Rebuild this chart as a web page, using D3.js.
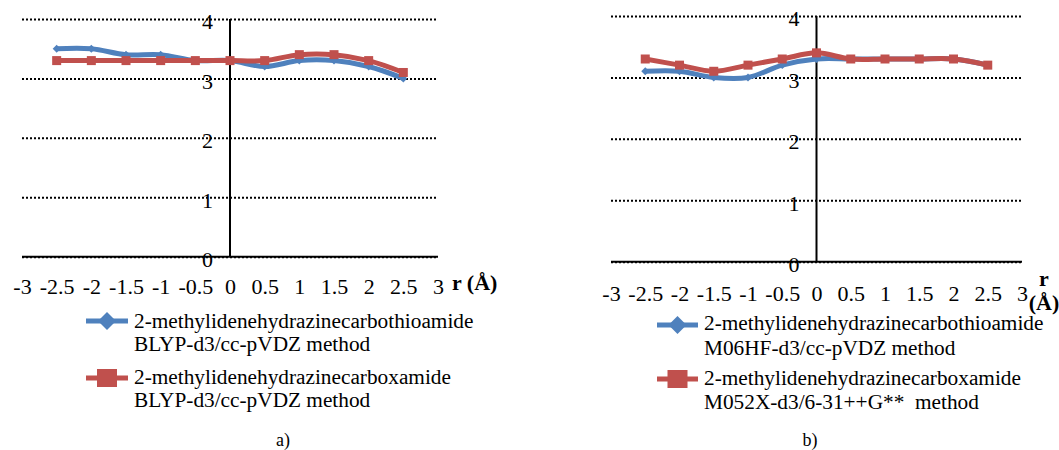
<!DOCTYPE html>
<html>
<head>
<meta charset="utf-8">
<script src="https://cdn.jsdelivr.net/npm/d3@7"></script>
<style>
  body { margin: 0; background: #fff; }
  svg text { fill: #000; }
</style>
</head>
<body>
<div id="chart"></div>
<script>
// data
const rValues = [-2.5, -2, -1.5, -1, -0.5, 0, 0.5, 1, 1.5, 2, 2.5];
const xTicks = [-3, -2.5, -2, -1.5, -1, -0.5, 0, 0.5, 1, 1.5, 2, 2.5, 3];
const yTicks = [0, 1, 2, 3, 4];

const thioA = [3.5, 3.5, 3.4, 3.4, 3.3, 3.3, 3.2, 3.3, 3.3, 3.2, 3.0];
const oxaA  = [3.3, 3.3, 3.3, 3.3, 3.3, 3.3, 3.3, 3.4, 3.4, 3.3, 3.1];
const thioB = [3.1, 3.1, 3.0, 3.0, 3.2, 3.3, 3.3, 3.3, 3.3, 3.3, 3.2];
const oxaB  = [3.3, 3.2, 3.1, 3.2, 3.3, 3.4, 3.3, 3.3, 3.3, 3.3, 3.2];

const legendA = [
  ["2-methylidenehydrazinecarbothioamide", "BLYP-d3/cc-pVDZ method"],
  ["2-methylidenehydrazinecarboxamide", "BLYP-d3/cc-pVDZ method"]
];
const legendB = [
  ["2-methylidenehydrazinecarbothioamide", "M06HF-d3/cc-pVDZ method"],
  ["2-methylidenehydrazinecarboxamide", "M052X-d3/6-31++G**  method"]
];

const blue = "#4f81bd", red = "#c0504d";
const serif = "'Liberation Serif', 'Times New Roman', serif";

const svg = d3.select("#chart").append("svg")
  .attr("width", 1059).attr("height", 450)
  .attr("font-family", serif);

function drawPanel(o) {
  const g = svg.append("g");
  const x = d3.scaleLinear().domain([-3, 3]).range([o.x0, o.x1]);
  const y = d3.scaleLinear().domain([0, 4]).range([o.y0, o.y1]);

  // dotted grid
  const grid = g.append("g")
    .attr("transform", `translate(${o.x0},0)`)
    .call(d3.axisLeft(y).tickValues(yTicks).tickSize(-(o.x1 - o.x0)).tickFormat(""));
  grid.select(".domain").remove();
  grid.selectAll("line").attr("stroke", "#000").attr("stroke-width", 2)
    .attr("stroke-dasharray", "2,2");

  // axis lines
  g.append("line").attr("x1", o.x0).attr("x2", o.x1)
    .attr("y1", y(0)).attr("y2", y(0)).attr("stroke", "#000").attr("stroke-width", 2);
  g.append("line").attr("x1", x(0)).attr("x2", x(0))
    .attr("y1", y(4)).attr("y2", y(0)).attr("stroke", "#000").attr("stroke-width", 2);

  // y labels next to the vertical axis
  const yAx = g.append("g")
    .attr("transform", `translate(${x(0)},0)`)
    .call(d3.axisLeft(y).tickValues(yTicks).tickSize(0).tickPadding(17).tickFormat(d => String(d)));
  yAx.select(".domain").remove();
  yAx.attr("font-size", 22).attr("font-family", serif);
  yAx.selectAll("text").attr("dy", "0.45em");

  // x labels
  const xAx = g.append("g")
    .attr("transform", `translate(0,${y(0)})`)
    .call(d3.axisBottom(x).tickValues(xTicks).tickSize(0).tickPadding(o.xPad).tickFormat(d => String(d)));
  xAx.select(".domain").remove();
  xAx.attr("font-size", 22).attr("font-family", serif);

  // axis title
  o.title.forEach(t => {
    g.append("text").attr("x", t[0]).attr("y", t[1]).attr("font-size", 22)
      .attr("font-weight", "bold").attr("text-anchor", t[3]).attr("dominant-baseline", "central")
      .text(t[2]);
  });

  const line = d3.line()
    .curve(d3.curveCatmullRom)
    .x((d, i) => x(rValues[i]))
    .y(d => y(d));

  // blue series with diamonds
  g.append("path").attr("d", line(o.thio)).attr("fill", "none")
    .attr("stroke", blue).attr("stroke-width", 5).attr("stroke-linejoin", "round");
  g.selectAll(".dia").data(o.thio).enter().append("path")
    .attr("d", d3.symbol(d3.symbolDiamond2, 40)())
    .attr("transform", (d, i) => `translate(${x(rValues[i])},${y(d)})`)
    .attr("fill", blue);

  // red series with squares
  g.append("path").attr("d", line(o.oxa)).attr("fill", "none")
    .attr("stroke", red).attr("stroke-width", 5).attr("stroke-linejoin", "round");
  g.selectAll(".sq").data(o.oxa).enter().append("rect")
    .attr("x", (d, i) => x(rValues[i]) - 4.5).attr("y", d => y(d) - 4.5)
    .attr("width", 9).attr("height", 9).attr("fill", red);

  // legend
  const lg = o.legend;
  [0, 1].forEach(k => {
    const ly = lg.sy[k];
    const col = k === 0 ? blue : red;
    g.append("line").attr("x1", lg.x0).attr("x2", lg.x1).attr("y1", ly).attr("y2", ly)
      .attr("stroke", col).attr("stroke-width", 5);
    const cx = (lg.x0 + lg.x1) / 2;
    if (k === 0) {
      g.append("path").attr("d", "M0,-9L9,0L0,9L-9,0Z")
        .attr("transform", `translate(${cx},${ly})`).attr("fill", col);
    } else {
      g.append("rect").attr("x", cx - 10).attr("y", ly - 9).attr("width", 20).attr("height", 18)
        .attr("fill", col);
    }
    o.legendText[k].forEach((s, j) => {
      g.append("text").attr("x", lg.tx).attr("y", lg.ty[k][j]).attr("font-size", 21.3)
        .attr("dominant-baseline", "central").style("white-space", "pre").text(s);
    });
  });

  g.append("text").attr("x", o.cap[0]).attr("y", o.cap[1]).attr("font-size", 18)
    .attr("text-anchor", "middle").attr("dominant-baseline", "central").text(o.cap[2]);
}

drawPanel({
  x0: 22, x1: 438, y0: 256.7, y1: 19, xPad: 22,
  thio: thioA, oxa: oxaA,
  title: [[452, 282.5, "r (Å)", "start"]],
  legend: { x0: 86, x1: 128, sy: [321, 378], tx: 134, ty: [[321, 343.5], [377, 399.5]] },
  legendText: legendA,
  cap: [283, 440, "a)"]
});

drawPanel({
  x0: 611, x1: 1022, y0: 261.7, y1: 16, xPad: 23.5,
  thio: thioB, oxa: oxaB,
  title: [[1044, 278, "r", "middle"], [1044, 302, "(Å)", "middle"]],
  legend: { x0: 657, x1: 698, sy: [325, 379], tx: 704, ty: [[323, 348], [377.5, 402]] },
  legendText: legendB,
  cap: [810, 440, "b)"]
});
</script>
</body>
</html>
